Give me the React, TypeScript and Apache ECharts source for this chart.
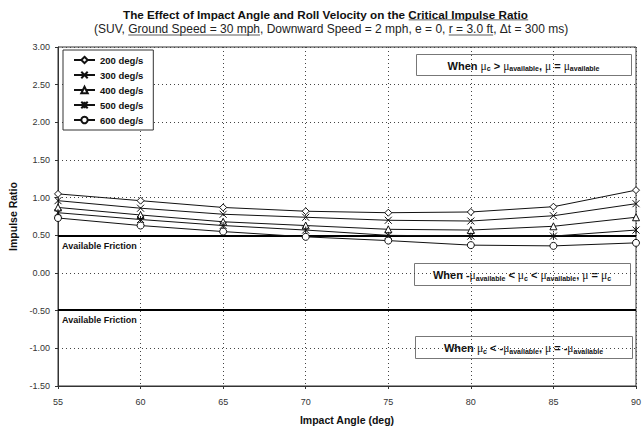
import React, { useEffect, useRef } from "react";
import * as echarts from "echarts";

// Impact angle (deg) on the x axis
const impactAngles = [55, 60, 65, 70, 75, 80, 85, 90];

// Roll velocity series names
const rollRates = ["200 deg/s", "300 deg/s", "400 deg/s", "500 deg/s", "600 deg/s"];

// Critical impulse ratio for each roll velocity
const ratio200 = [1.05, 0.96, 0.87, 0.82, 0.8, 0.81, 0.88, 1.1];
const ratio300 = [0.96, 0.86, 0.78, 0.74, 0.7, 0.69, 0.76, 0.92];
const ratio400 = [0.87, 0.77, 0.68, 0.63, 0.58, 0.57, 0.62, 0.74];
const ratio500 = [0.8, 0.71, 0.63, 0.57, 0.5, 0.49, 0.49, 0.57];
const ratio600 = [0.73, 0.63, 0.55, 0.48, 0.43, 0.37, 0.36, 0.4];

// Available friction limits (+/-)
const frictionLevels = [0.5, -0.49];

type Frag = { t: string; k: "w" | "m" | "s" };
const MU = "\u03bc";

// Friction regime notes: w = bold text, m = mu symbol, s = subscript
const noteUpper: Frag[] = [
  { t: "When ", k: "w" }, { t: MU, k: "m" }, { t: "c", k: "s" },
  { t: " > ", k: "w" }, { t: MU, k: "m" }, { t: "available", k: "s" },
  { t: ", ", k: "w" }, { t: MU, k: "m" }, { t: " = ", k: "w" },
  { t: MU, k: "m" }, { t: "available", k: "s" },
];
const noteMiddle: Frag[] = [
  { t: "When -", k: "w" }, { t: MU, k: "m" }, { t: "available", k: "s" },
  { t: " < ", k: "w" }, { t: MU, k: "m" }, { t: "c", k: "s" },
  { t: " < ", k: "w" }, { t: MU, k: "m" }, { t: "available", k: "s" },
  { t: ", ", k: "w" }, { t: MU, k: "m" }, { t: " = ", k: "w" },
  { t: MU, k: "m" }, { t: "c", k: "s" },
];
const noteLower: Frag[] = [
  { t: "When ", k: "w" }, { t: MU, k: "m" }, { t: "c", k: "s" },
  { t: " < -", k: "w" }, { t: MU, k: "m" }, { t: "available", k: "s" },
  { t: ", ", k: "w" }, { t: MU, k: "m" }, { t: " = -", k: "w" },
  { t: MU, k: "m" }, { t: "available", k: "s" },
];

const FONT = '"Liberation Sans", Arial, sans-serif';
const SERIF = '"Liberation Serif", serif';

const seriesValues = [ratio200, ratio300, ratio400, ratio500, ratio600];
const seriesSymbols = [
  "diamond",
  "path://M0,0L10,10M10,0L0,10",
  "triangle",
  "path://M0,0L10,10M10,0L0,10M5,0L5,10",
  "circle",
];

function measure(text: string, font: string): number {
  const ctx = document.createElement("canvas").getContext("2d");
  if (!ctx) return text.length * 5.5;
  ctx.font = font;
  return ctx.measureText(text).width;
}

// A left-aligned line of text with some of its parts underlined
function underlinedLine(
  parts: { t: string; u?: boolean }[],
  x: number,
  y: number,
  size: number,
  weight: string,
  fill: string
) {
  const font = `${weight} ${size}px ${FONT}`;
  const full = parts.map((p) => p.t).join("");
  const elems: any[] = [
    {
      type: "text",
      x,
      y,
      style: {
        text: full,
        fontFamily: FONT,
        fontSize: size,
        fontWeight: weight,
        fill,
        align: "left",
        verticalAlign: "middle",
      },
    },
  ];
  let cursor = 0;
  parts.forEach((p) => {
    const w = measure(p.t, font);
    if (p.u) {
      elems.push({
        type: "line",
        shape: { x1: x + cursor, y1: y + size * 0.5, x2: x + cursor + w, y2: y + size * 0.5 },
        style: { stroke: "#333", lineWidth: 0.8 },
      });
    }
    cursor += w;
  });
  return elems;
}

const fragStyle = {
  w: { fontFamily: FONT, fontSize: 11, fontWeight: "bold" },
  m: { fontFamily: SERIF, fontSize: 11.5, fontWeight: "normal" },
  s: { fontFamily: FONT, fontSize: 7, fontWeight: "bold" },
};

function noteBox(x: number, y: number, w: number, h: number, frags: Frag[]) {
  const widths = frags.map((f) => {
    const s = fragStyle[f.k];
    return measure(f.t, `${s.fontWeight} ${s.fontSize}px ${s.fontFamily}`);
  });
  const total = widths.reduce((a, b) => a + b, 0);
  let cx = w / 2 - total / 2;
  const children: any[] = [
    {
      type: "rect",
      shape: { x: 0.5, y: 0.5, width: w, height: h },
      style: { fill: "#fff", stroke: "#777", lineWidth: 1 },
    },
  ];
  frags.forEach((f, i) => {
    children.push({
      type: "text",
      x: cx,
      y: h / 2 + 1 + (f.k === "s" ? 3 : 0),
      style: {
        text: f.t,
        ...fragStyle[f.k],
        fill: "#111",
        align: "left",
        verticalAlign: "middle",
      },
    });
    cx += widths[i];
  });
  return { type: "group", x, y, z: 10, children };
}

export default function App() {
  const ref = useRef<HTMLDivElement>(null);

  useEffect(() => {
    if (!ref.current) return;
    const chart = echarts.init(ref.current, undefined, { renderer: "svg" });

    const titleElems = underlinedLine(
      [
        { t: "The Effect of Impact Angle and Roll Velocity on the " },
        { t: "Critical Impulse Ratio", u: true },
      ],
      123,
      14,
      11.7,
      "bold",
      "#111"
    );
    const subElems = underlinedLine(
      [
        { t: "(SUV, " },
        { t: "Ground Speed = 30 mph", u: true },
        { t: ", Downward Speed = 2 mph, e = 0, " },
        { t: "r = 3.0 ft", u: true },
        { t: ", \u0394t = 300 ms)" },
      ],
      94,
      29,
      12,
      "normal",
      "#222"
    );

    const series: any[] = rollRates.map((name, i) => ({
      name,
      type: "line",
      data: impactAngles.map((a, j) => [a, seriesValues[i][j]]),
      symbol: seriesSymbols[i],
      symbolSize: 7,
      lineStyle: { color: "#111", width: 1 },
      itemStyle: { color: "#fff", borderColor: "#111", borderWidth: 1 },
      z: 3,
    }));

    series[0].markLine = {
      silent: true,
      symbol: ["none", "none"],
      lineStyle: { color: "#000", width: 2, type: "solid" },
      label: {
        show: true,
        position: "insideStartBottom",
        formatter: "Available Friction",
        fontFamily: FONT,
        fontSize: 9,
        fontWeight: "bold",
        color: "#111",
        distance: [4, 6],
      },
      data: frictionLevels.map((v) => ({ yAxis: v })),
      z: 2,
    };

    chart.setOption({
      animation: false,
      backgroundColor: "#fff",
      textStyle: { fontFamily: FONT },
      grid: {
        left: 58,
        right: 6,
        top: 47,
        bottom: 41,
        outerBoundsMode: "none",
        containLabel: false,
        show: true,
        borderColor: "#333",
        borderWidth: 1,
        backgroundColor: "transparent",
      },
      legend: {
        orient: "vertical",
        left: 63,
        top: 50,
        data: rollRates,
        selectedMode: false,
        backgroundColor: "#fff",
        borderColor: "#333",
        borderWidth: 1,
        padding: [5, 10, 5, 10],
        itemWidth: 21,
        itemHeight: 8,
        itemGap: 5,
        textStyle: {
          fontFamily: FONT,
          fontSize: 9.5,
          fontWeight: "bold",
          color: "#111",
          lineHeight: 10,
        },
        z: 8,
      },
      xAxis: {
        type: "value",
        min: 55,
        max: 90,
        interval: 5,
        name: "Impact Angle (deg)",
        nameLocation: "middle",
        nameGap: 28,
        nameTextStyle: { fontFamily: FONT, fontSize: 10.5, fontWeight: "bold", color: "#111" },
        axisLine: { show: true, onZero: false, lineStyle: { color: "#333" } },
        axisTick: { show: true, length: 3, lineStyle: { color: "#333" } },
        axisLabel: { fontFamily: FONT, fontSize: 9, color: "#333", margin: 11 },
        splitLine: { show: true, lineStyle: { color: "#444", type: [1, 3], width: 1 } },
      },
      yAxis: {
        type: "value",
        min: -1.5,
        max: 3,
        interval: 0.5,
        name: "Impulse Ratio",
        nameLocation: "middle",
        nameGap: 36,
        nameRotate: 90,
        nameTextStyle: { fontFamily: FONT, fontSize: 10.5, fontWeight: "bold", color: "#111" },
        axisLine: { show: true, onZero: false, lineStyle: { color: "#333" } },
        axisTick: { show: true, length: 3, lineStyle: { color: "#333" } },
        axisLabel: {
          fontFamily: FONT,
          fontSize: 9,
          color: "#333",
          margin: 8,
          formatter: (v: number) => v.toFixed(2),
        },
        splitLine: { show: true, lineStyle: { color: "#444", type: [1, 3], width: 1 } },
      },
      graphic: [
        ...titleElems,
        ...subElems,
        noteBox(416, 54, 215, 21, noteUpper),
        noteBox(414, 263, 216, 22, noteMiddle),
        noteBox(415, 336, 217, 22, noteLower),
      ],
      series,
    });

    return () => chart.dispose();
  }, []);

  return (
    <div
      ref={ref}
      style={{ position: "fixed", left: 0, top: 0, width: 642, height: 427, background: "#fff" }}
    />
  );
}
